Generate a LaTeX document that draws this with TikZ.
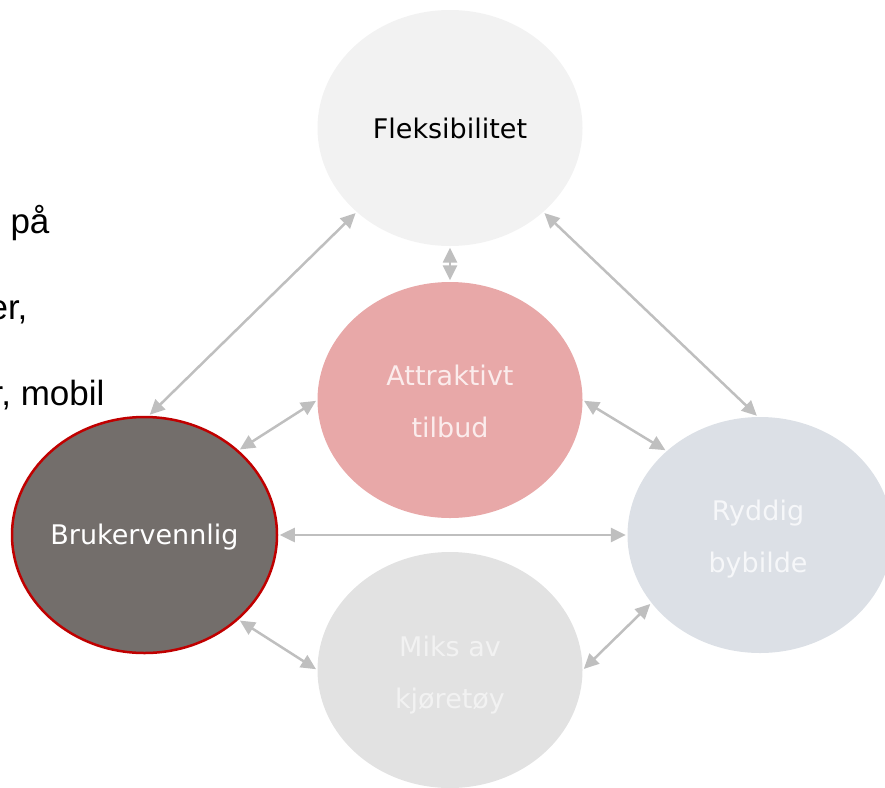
\documentclass[tikz,border=0pt]{standalone}
\usepackage{fontspec}
\setmainfont{DejaVu Sans}
\newfontfamily\arialfont{Liberation Sans}
\usetikzlibrary{arrows.meta, shapes.geometric}

\definecolor{flekfill}{HTML}{F2F2F2}
\definecolor{attrfill}{HTML}{E8A8A8}
\definecolor{attrtext}{HTML}{FBECEC}
\definecolor{brukfill}{HTML}{736E6B}
\definecolor{brukline}{HTML}{C00000}
\definecolor{ryddfill}{HTML}{DCE0E6}
\definecolor{ryddtext}{HTML}{F6F7F9}
\definecolor{miksfill}{HTML}{E2E2E2}
\definecolor{mikstext}{HTML}{F2F2F2}
\definecolor{arrowgray}{HTML}{BFBFBF}

\tikzset{
  bubble/.style = {ellipse, minimum width = 265pt, minimum height = 236pt, inner sep = 0pt},
  bubtext/.style = {align = center, font = \fontsize{27}{52}\selectfont},
  link/.style = {arrowgray, line width = 2.5pt,
    {Triangle[length = 15pt, width = 14pt]}-{Triangle[length = 15pt, width = 14pt]},
    shorten <= 1.5pt, shorten >= 1.5pt},
  sidetext/.style = {anchor = base east, font = \arialfont\fontsize{35}{40}\selectfont}
}

\begin{document}
\begin{tikzpicture}[x = 1pt, y = -1pt]
      \useasboundingbox (0, 0) rectangle (885, 787);

      \node[sidetext] (line1) at (53, 233) {g på};
      \node[sidetext] (line2) at (31, 319) {er,};
      \node[sidetext] (line3) at (108, 405) {r, mobil};

      \node[bubble, fill = flekfill] (flek) at (450, 128) {};
      \node[bubble, fill = attrfill] (attr) at (450, 400) {};
      \node[bubble, fill = brukfill, draw = brukline, line width = 2.5pt] (bruk) at (144.5, 535) {};
      \node[bubble, fill = ryddfill] (rydd) at (760, 535) {};
      \node[bubble, fill = miksfill] (miks) at (450, 670) {};

      \node[bubtext, text = black] at (flek) {Fleksibilitet};
      \node[bubtext, text = attrtext] at ([yshift = -1pt] attr) {Attraktivt\\tilbud};
      \node[bubtext, text = white] at ([yshift = -2pt] bruk) {Brukervennlig};
      \node[bubtext, text = ryddtext] at ([xshift = -2pt, yshift = -4pt] rydd) {Ryddig\\bybilde};
      \node[bubtext, text = mikstext] at ([yshift = -5pt] miks) {Miks av\\kjøretøy};

      \draw[link] (flek.222) -- (bruk.88);
      \draw[link] (flek.south) -- (attr.north);
      \draw[link] (flek.318) -- (rydd.91);
      \draw[link] (attr.west) -- (bruk.42);
      \draw[link] (attr.east) -- (rydd.138);
      \draw[link] (bruk.east) -- (rydd.west);
      \draw[link] (bruk.318) -- (miks.west);
      \draw[link] (miks.east) -- (rydd.212);
    \end{tikzpicture}
\end{document}
